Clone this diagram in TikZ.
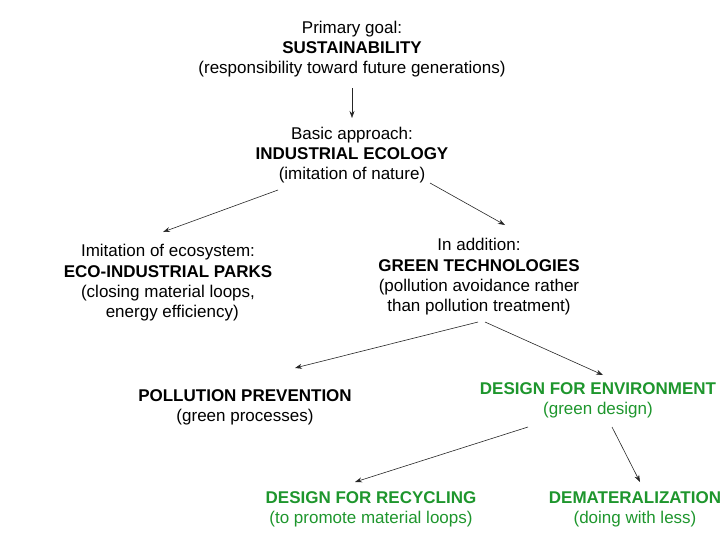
\documentclass[tikz,border=0pt]{standalone}
\usepackage{fontspec}
\setmainfont{Liberation Sans}
\usetikzlibrary{arrows.meta}
\definecolor{dgreen}{RGB}{30,150,45}
\begin{document}
\begin{tikzpicture}[x=1pt,y=-1pt,
  blk/.style={align=center,inner sep=0pt,font=\fontsize{17}{20.3}\selectfont},
  gblk/.style={blk,text=dgreen},
  arr/.style={-{Stealth[length=7pt,width=5pt]},line width=0.6pt,black!85}]
\useasboundingbox (0,0) rectangle (728,546);
\node[blk] (top) at (352,49) {Primary goal:\\\textbf{SUSTAINABILITY}\\(responsibility toward future generations)};
\node[blk] (basic) at (352,155) {Basic approach:\\\textbf{INDUSTRIAL ECOLOGY}\\(imitation of nature)};
\node[blk] (eco) at (168,283) {Imitation of ecosystem:\\\textbf{ECO-INDUSTRIAL PARKS}\\(closing material loops,\\\phantom{x}energy efficiency)};
\node[blk] (green) at (479,277) {In addition:\\\textbf{GREEN TECHNOLOGIES}\\(pollution avoidance rather\\than pollution treatment)};
\node[blk] (poll) at (245,407) {\textbf{POLLUTION PREVENTION}\\(green processes)};
\node[gblk] (dfe) at (598,400) {\textbf{DESIGN FOR ENVIRONMENT}\\(green design)};
\node[gblk] (dfr) at (371,509) {\textbf{DESIGN FOR RECYCLING}\\(to promote material loops)};
\node[gblk] (demat) at (635,509) {\textbf{DEMATERALIZATION}\\(doing with less)};
\draw[arr] ([shift={(0,39)}]top.center) -- ([shift={(0,-37)}]basic.center);
\draw[arr] ([shift={(-74,35)}]basic.center) -- ([shift={(-5,-51)}]eco.center);
\draw[arr] ([shift={(78,28)}]basic.center) -- ([shift={(26,-52)}]green.center);
\draw[arr] ([shift={(-1,45)}]green.center) -- ([shift={(50,-39)}]poll.center);
\draw[arr] ([shift={(6,45)}]green.center) -- ([shift={(5,-25)}]dfe.center);
\draw[arr] ([shift={(-70,27)}]dfe.center) -- ([shift={(-16,-27)}]dfr.center);
\draw[arr] ([shift={(14,27)}]dfe.center) -- ([shift={(5,-27)}]demat.center);
\end{tikzpicture}
\end{document}
